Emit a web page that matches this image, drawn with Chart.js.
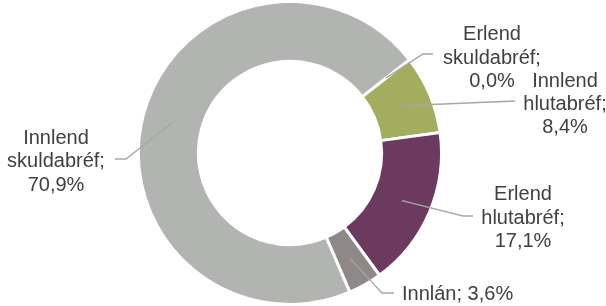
<!DOCTYPE html>
<html lang="is">
<head>
    <meta charset="UTF-8">
    <title>Eignasamsetning</title>
    <script src="https://cdn.jsdelivr.net/npm/chart.js"></script>
    <style>
        body, html {
            margin: 0;
            padding: 0;
            background-color: #ffffff;
        }
        .chart-container {
            position: relative;
            width: 606px;
            height: 306px;
        }
    </style>
</head>
<body>
    <div class="chart-container">
        <canvas id="assetChart"></canvas>
    </div>

    <script>
        // Gögn
        const categories = ['Erlend skuldabréf', 'Innlend hlutabréf', 'Erlend hlutabréf', 'Innlán', 'Innlend skuldabréf'];
        const shares = [0.0, 8.4, 17.1, 3.6, 70.9];
        const colors = ['#8faadc', '#a3ad5e', '#6b3a5e', '#908788', '#b2b4b1'];
        const labelLines = [
            ['Erlend', 'skuldabréf;', '0,0%'],
            ['Innlend', 'hlutabréf;', '8,4%'],
            ['Erlend', 'hlutabréf;', '17,1%'],
            ['Innlán; 3,6%'],
            ['Innlend', 'skuldabréf;', '70,9%']
        ];

        // Staðsetning merkja (texti og leiðarlínur)
        const labelLayout = [
            { x: 492, y: 40.4, align: 'center', path: [[423, 54], [433, 54]] },
            { x: 565, y: 86.7, align: 'center', path: [[515, 101]] },
            { x: 523, y: 200.4, align: 'center', path: [[463, 216], [473, 216]] },
            { x: 402, y: 300.2, align: 'left', path: [[382, 293], [394, 293]] },
            { x: 56, y: 144, align: 'center', path: [[126, 159], [115, 159]] }
        ];

        const calloutPlugin = {
            id: 'callouts',
            afterDraw(chart) {
                const ctx = chart.ctx;
                const arcs = chart.getDatasetMeta(0).data;
                ctx.save();
                arcs.forEach((arc, i) => {
                    const p = arc.getProps(['x', 'y', 'startAngle', 'endAngle', 'innerRadius', 'outerRadius'], true);
                    const mid = (p.startAngle + p.endAngle) / 2;
                    const r = (p.innerRadius + p.outerRadius) / 2;
                    const ax = p.x + Math.cos(mid) * r;
                    const ay = p.y + Math.sin(mid) * r;
                    const lay = labelLayout[i];

                    ctx.strokeStyle = '#a6a6a6';
                    ctx.lineWidth = 1.3;
                    ctx.beginPath();
                    ctx.moveTo(ax, ay);
                    lay.path.forEach(pt => ctx.lineTo(pt[0], pt[1]));
                    ctx.stroke();

                    ctx.fillStyle = '#404040';
                    ctx.font = '20px "Liberation Sans", Arial, sans-serif';
                    ctx.textAlign = lay.align;
                    ctx.textBaseline = 'alphabetic';
                    labelLines[i].forEach((line, k) => {
                        ctx.fillText(line, lay.x, lay.y + k * 23.3);
                    });
                });
                ctx.restore();
            }
        };

        new Chart(document.getElementById('assetChart').getContext('2d'), {
            type: 'doughnut',
            data: {
                labels: categories,
                datasets: [{
                    data: shares,
                    backgroundColor: colors,
                    borderColor: '#ffffff',
                    borderWidth: 3,
                    hoverOffset: 0
                }]
            },
            options: {
                responsive: true,
                maintainAspectRatio: false,
                animation: false,
                rotation: 52,
                cutout: '60.5%',
                layout: {
                    padding: { left: 0, right: 26, top: 0, bottom: 0 }
                },
                plugins: {
                    legend: { display: false },
                    tooltip: { enabled: false }
                }
            },
            plugins: [calloutPlugin]
        });
    </script>
</body>
</html>
